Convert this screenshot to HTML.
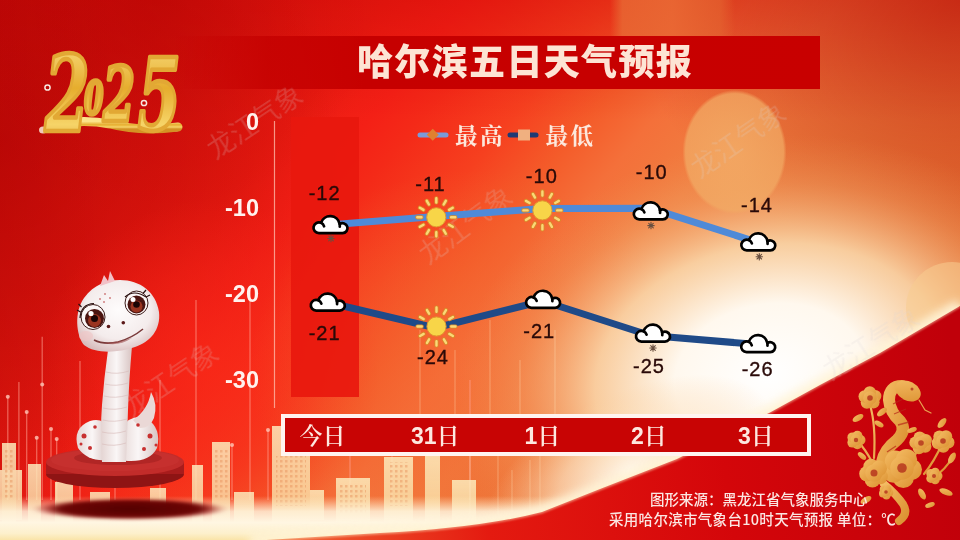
<!DOCTYPE html>
<html><head><meta charset="utf-8">
<style>
html,body{margin:0;padding:0;width:960px;height:540px;overflow:hidden;background:#d01010}
svg{display:block}
.t{font-family:"Liberation Sans","Noto Sans CJK SC",sans-serif}
</style></head>
<body>
<svg width="960" height="540" viewBox="0 0 960 540">
<defs>
  <linearGradient id="bgx" x1="0" y1="0" x2="772" y2="636" gradientUnits="userSpaceOnUse">
    <stop offset="0" stop-color="#e01410"/>
    <stop offset="0.3" stop-color="#ec1c12"/>
    <stop offset="0.36" stop-color="#f42016"/>
    <stop offset="0.4" stop-color="#f42a18"/>
    <stop offset="0.47" stop-color="#f6401f"/>
    <stop offset="0.53" stop-color="#f45c2a"/>
    <stop offset="0.58" stop-color="#f4703a"/>
    <stop offset="0.65" stop-color="#f07e40"/>
    <stop offset="0.75" stop-color="#e87a3a"/>
    <stop offset="0.9" stop-color="#e26c30"/>
    <stop offset="1" stop-color="#de642c"/>
  </linearGradient>
  <radialGradient id="midorange" cx="470" cy="370" r="200" gradientUnits="userSpaceOnUse" gradientTransform="translate(470 370) scale(1.1 1) translate(-470 -370)">
    <stop offset="0" stop-color="#f66c36" stop-opacity="0.6"/>
    <stop offset="0.6" stop-color="#f4642e" stop-opacity="0.35"/>
    <stop offset="1" stop-color="#f4642e" stop-opacity="0"/>
  </radialGradient>
  <radialGradient id="glow2" cx="630" cy="470" r="110" gradientUnits="userSpaceOnUse" gradientTransform="translate(630 470) rotate(-25) scale(1.4 0.7) translate(-630 -470)">
    <stop offset="0" stop-color="#fff8ec" stop-opacity="0.95"/>
    <stop offset="0.5" stop-color="#fde6c8" stop-opacity="0.6"/>
    <stop offset="1" stop-color="#fad0a0" stop-opacity="0"/>
  </radialGradient>
  <radialGradient id="leftbright" cx="210" cy="370" r="170" gradientUnits="userSpaceOnUse">
    <stop offset="0" stop-color="#fa2818" stop-opacity="0.75"/>
    <stop offset="0.6" stop-color="#f82418" stop-opacity="0.4"/>
    <stop offset="1" stop-color="#f82418" stop-opacity="0"/>
  </radialGradient>
  <radialGradient id="trdark" cx="960" cy="0" r="330" gradientUnits="userSpaceOnUse" gradientTransform="translate(960 0) scale(1 0.8) translate(-960 0)">
    <stop offset="0" stop-color="#b40000" stop-opacity="0.5"/>
    <stop offset="0.5" stop-color="#b40000" stop-opacity="0.25"/>
    <stop offset="1" stop-color="#b40000" stop-opacity="0"/>
  </radialGradient>
  <linearGradient id="ledge" x1="0" y1="0" x2="110" y2="0" gradientUnits="userSpaceOnUse">
    <stop offset="0" stop-color="#a00000" stop-opacity="0.22"/>
    <stop offset="1" stop-color="#a00000" stop-opacity="0"/>
  </linearGradient>
  <radialGradient id="leftdark" cx="0" cy="140" r="340" gradientUnits="userSpaceOnUse">
    <stop offset="0" stop-color="#a80000" stop-opacity="0.58"/>
    <stop offset="0.5" stop-color="#a80000" stop-opacity="0.32"/>
    <stop offset="1" stop-color="#a80000" stop-opacity="0"/>
  </radialGradient>
  <linearGradient id="topglow" x1="610" y1="0" x2="735" y2="0" gradientUnits="userSpaceOnUse">
    <stop offset="0" stop-color="#e86a34" stop-opacity="0"/>
    <stop offset="0.1" stop-color="#e86a34" stop-opacity="0.8"/>
    <stop offset="0.5" stop-color="#ea6c36" stop-opacity="0.85"/>
    <stop offset="0.88" stop-color="#e46430" stop-opacity="0.7"/>
    <stop offset="1" stop-color="#e46430" stop-opacity="0"/>
  </linearGradient>
  <radialGradient id="tldark" cx="160" cy="0" r="220" gradientUnits="userSpaceOnUse">
    <stop offset="0" stop-color="#a80000" stop-opacity="0.35"/>
    <stop offset="1" stop-color="#a80000" stop-opacity="0"/>
  </radialGradient>
  <linearGradient id="topdark" x1="0" y1="0" x2="0" y2="120" gradientUnits="userSpaceOnUse">
    <stop offset="0" stop-color="#c00000" stop-opacity="0.3"/>
    <stop offset="0.35" stop-color="#c00000" stop-opacity="0.18"/>
    <stop offset="1" stop-color="#c00000" stop-opacity="0"/>
  </linearGradient>
  <radialGradient id="leftred" cx="120" cy="380" r="260" gradientUnits="userSpaceOnUse">
    <stop offset="0" stop-color="#ee1c12" stop-opacity="0.8"/>
    <stop offset="1" stop-color="#ee1c12" stop-opacity="0"/>
  </radialGradient>
  <radialGradient id="glow" cx="770" cy="375" r="320" gradientUnits="userSpaceOnUse" gradientTransform="translate(770 375) rotate(-10) scale(1 0.74) translate(-770 -375)">
    <stop offset="0" stop-color="#ffffff" stop-opacity="1"/>
    <stop offset="0.3" stop-color="#fff8ee" stop-opacity="1"/>
    <stop offset="0.55" stop-color="#fbdcb0" stop-opacity="0.85"/>
    <stop offset="0.8" stop-color="#f4a86c" stop-opacity="0.35"/>
    <stop offset="1" stop-color="#f09050" stop-opacity="0"/>
  </radialGradient>
  <radialGradient id="rglow" cx="940" cy="260" r="160" gradientUnits="userSpaceOnUse">
    <stop offset="0" stop-color="#f6c48a" stop-opacity="0.8"/>
    <stop offset="1" stop-color="#f6c48a" stop-opacity="0"/>
  </radialGradient>
  <radialGradient id="bokeh" cx="0.5" cy="0.5" r="0.5">
    <stop offset="0" stop-color="#f4b06a" stop-opacity="0.8"/>
    <stop offset="0.94" stop-color="#f2aa64" stop-opacity="0.75"/>
    <stop offset="1" stop-color="#f2aa64" stop-opacity="0"/>
  </radialGradient>
  <linearGradient id="band" x1="0" y1="540" x2="960" y2="400" gradientUnits="userSpaceOnUse">
    <stop offset="0" stop-color="#f4a050"/>
    <stop offset="0.3" stop-color="#f06030"/>
    <stop offset="0.5" stop-color="#e41a10"/>
    <stop offset="0.75" stop-color="#d4060a"/>
    <stop offset="1" stop-color="#c0000a"/>
  </linearGradient>
  <linearGradient id="titlebar" x1="170" y1="0" x2="820" y2="0" gradientUnits="userSpaceOnUse">
    <stop offset="0" stop-color="#c40000" stop-opacity="0"/>
    <stop offset="0.15" stop-color="#c40000" stop-opacity="0.8"/>
    <stop offset="0.3" stop-color="#c60000" stop-opacity="1"/>
    <stop offset="1" stop-color="#c80000" stop-opacity="1"/>
  </linearGradient>
  <linearGradient id="gold" x1="0" y1="0" x2="0" y2="1">
    <stop offset="0" stop-color="#fbe38a"/>
    <stop offset="0.45" stop-color="#e6ad2e"/>
    <stop offset="0.75" stop-color="#f6d468"/>
    <stop offset="1" stop-color="#d49224"/>
  </linearGradient>
  <linearGradient id="gold2" x1="0" y1="0" x2="1" y2="1">
    <stop offset="0" stop-color="#f4bc64"/>
    <stop offset="1" stop-color="#dc9232"/>
  </linearGradient>
  <linearGradient id="bld" x1="0" y1="0" x2="0" y2="1">
    <stop offset="0" stop-color="#fdeec0" stop-opacity="0.95"/>
    <stop offset="1" stop-color="#fae0a4" stop-opacity="0.88"/>
  </linearGradient>
  <linearGradient id="botglow" x1="0" y1="496" x2="0" y2="540" gradientUnits="userSpaceOnUse">
    <stop offset="0" stop-color="#fff0c8" stop-opacity="0"/>
    <stop offset="0.35" stop-color="#fff4dc" stop-opacity="0.85"/>
    <stop offset="0.6" stop-color="#fff6e2" stop-opacity="1"/>
    <stop offset="0.85" stop-color="#fdf0cc" stop-opacity="1"/>
    <stop offset="1" stop-color="#fae4a8" stop-opacity="1"/>
  </linearGradient>
  <radialGradient id="shadow" cx="0.5" cy="0.5" r="0.5">
    <stop offset="0" stop-color="#520202"/>
    <stop offset="0.75" stop-color="#6a0606" stop-opacity="0.97"/>
    <stop offset="1" stop-color="#b01010" stop-opacity="0"/>
  </radialGradient>
  <radialGradient id="head" cx="0.5" cy="0.42" r="0.62">
    <stop offset="0" stop-color="#fefcfc"/>
    <stop offset="0.65" stop-color="#f4ecec"/>
    <stop offset="1" stop-color="#d8bcbc"/>
  </radialGradient>
  <linearGradient id="body" x1="0" y1="0" x2="1" y2="0">
    <stop offset="0" stop-color="#e4d4d2"/>
    <stop offset="0.5" stop-color="#faf6f6"/>
    <stop offset="1" stop-color="#d8c4c2"/>
  </linearGradient>
  <linearGradient id="plat" x1="0" y1="0" x2="0" y2="1">
    <stop offset="0" stop-color="#c83028"/>
    <stop offset="1" stop-color="#a81a18"/>
  </linearGradient>
  <g id="cloud">
    <path d="M7.2 18.6A5.4 5.4 0 1 1 9.36 8.25A9.6 9.6 0 0 1 27.95 9.49A5 5 0 1 1 30.8 18.6Z" fill="#fff" stroke="#000" stroke-width="2.7" stroke-linejoin="round"/>
    <path d="M9.36 8.25A5.4 5.4 0 0 1 12.38 11.68M27.95 9.49A9.6 9.6 0 0 1 28.06 12.04" fill="none" stroke="#000" stroke-width="2.7" stroke-linecap="round"/>
  </g>
  <g id="snow" stroke="#6a5040" stroke-width="1.1" stroke-linecap="round">
    <path d="M0 -3.2V3.2M-3.2 0H3.2M-2.3 -2.3L2.3 2.3M-2.3 2.3L2.3 -2.3"/>
  </g>
  <g id="sun">
    <g stroke="#d88a28" stroke-width="4.2" stroke-linecap="round">
      <path id="rays" d="M0 -14.8V-19.0M0 14.8V19.0M-14.8 0H-19.0M14.8 0H19.0M7.4 -12.82L9.5 -16.45M-7.4 -12.82L-9.5 -16.45M7.4 12.82L9.5 16.45M-7.4 12.82L-9.5 16.45M12.82 -7.4L16.45 -9.5M-12.82 -7.4L-16.45 -9.5M12.82 7.4L16.45 9.5M-12.82 7.4L-16.45 9.5"/>
    </g>
    <g stroke="#fad878" stroke-width="2.4" stroke-linecap="round">
      <use href="#rays"/>
    </g>
    <circle r="9.6" fill="#f8d548" stroke="#e09a30" stroke-width="1"/>
  </g>
  <filter id="blur1"><feGaussianBlur stdDeviation="1"/></filter>
  <filter id="hblur" x="-20%" y="-50%" width="140%" height="200%"><feGaussianBlur stdDeviation="5 1.5"/></filter>
  <pattern id="win" width="5" height="5" patternUnits="userSpaceOnUse"><rect width="2.5" height="2.5" fill="#e8905a"/></pattern>
  <filter id="blur2"><feGaussianBlur stdDeviation="2"/></filter>
  <filter id="blur4"><feGaussianBlur stdDeviation="4"/></filter>
</defs>

<!-- ===== background ===== -->
<rect width="960" height="540" fill="url(#bgx)"/>
<rect width="960" height="120" fill="url(#topdark)"/>
<rect width="960" height="540" fill="url(#trdark)"/>
<rect width="960" height="540" fill="url(#leftdark)"/>
<rect width="960" height="540" fill="url(#leftbright)"/>
<rect width="960" height="540" fill="url(#midorange)"/>
<rect x="600" width="140" height="40" fill="url(#topglow)"/>
<rect width="960" height="300" fill="url(#tldark)"/>
<rect width="960" height="540" fill="url(#glow)"/>
<rect width="960" height="540" fill="url(#glow2)"/>
<ellipse cx="734.5" cy="152" rx="52" ry="62" fill="url(#bokeh)"/>
<circle cx="952" cy="308" r="46" fill="#f8cc90" opacity="0.55"/>

<!-- light streaks -->
<rect width="110" height="540" fill="url(#ledge)"/>
<g stroke="#ffa090" stroke-width="1.3" opacity="0.55"><line x1="42.2" y1="336.7" x2="42.2" y2="500"/><line x1="18.9" y1="382" x2="18.9" y2="500"/><line x1="26.7" y1="412" x2="26.7" y2="500"/><line x1="7.8" y1="396.7" x2="7.8" y2="500"/><line x1="80" y1="361" x2="80" y2="500"/><line x1="36.7" y1="437.8" x2="36.7" y2="500"/><line x1="51" y1="429" x2="51" y2="500"/><line x1="56.7" y1="439" x2="56.7" y2="500"/><line x1="160" y1="380" x2="160" y2="500"/><line x1="196" y1="300" x2="196" y2="500"/><line x1="250" y1="290" x2="250" y2="500"/><line x1="232" y1="445" x2="232" y2="500"/><line x1="268" y1="430" x2="268" y2="500"/><line x1="350" y1="420" x2="350" y2="500"/><line x1="392" y1="440" x2="392" y2="500"/><line x1="470" y1="380" x2="470" y2="500"/><line x1="115" y1="300" x2="115" y2="500"/></g>
<g fill="#ffc8b8" opacity="0.8"><circle cx="42.2" cy="384.4" r="2"/><circle cx="26.7" cy="412" r="2"/><circle cx="7.8" cy="396.7" r="2"/><circle cx="36.7" cy="437.8" r="2"/><circle cx="51" cy="429" r="2"/><circle cx="56.7" cy="439" r="2"/><circle cx="232" cy="445" r="2"/><circle cx="268" cy="430" r="2"/><circle cx="350" cy="420" r="2"/><circle cx="392" cy="440" r="2"/></g>

<!-- skyline -->
<g fill="url(#bld)" opacity="0.88">
  <rect x="2" y="443" width="14" height="80"/>
  <rect x="0" y="470" width="22" height="50"/>
  <rect x="28" y="464" width="13" height="60"/>
  <rect x="55" y="482" width="18" height="40"/>
  <rect x="90" y="492" width="20" height="30"/>
  <rect x="150" y="488" width="16" height="30"/>
  <rect x="192" y="465" width="11" height="60"/>
  <rect x="212" y="442" width="18" height="80"/>
  <rect x="234" y="492" width="20" height="30"/>
  <rect x="272" y="426" width="38" height="96"/>
  <rect x="310" y="490" width="14" height="30"/>
  <rect x="336" y="478" width="34" height="44"/>
  <rect x="384" y="457" width="29" height="65"/>
  <rect x="425" y="456" width="15" height="66"/>
  <rect x="452" y="480" width="24" height="42"/>
</g>
<g fill="url(#win)" opacity="0.45">
  <rect x="4" y="450" width="10" height="50"/>
  <rect x="214" y="450" width="14" height="50"/>
  <rect x="276" y="456" width="30" height="50"/>
  <rect x="340" y="484" width="26" height="30"/>
  <rect x="388" y="462" width="22" height="44"/>
</g>
<g stroke="#ffe8c0" stroke-width="1" opacity="0.35">
  <line x1="498" y1="456" x2="498" y2="515"/><line x1="512" y1="470" x2="512" y2="512"/><line x1="530" y1="460" x2="530" y2="510"/>
  <line x1="420" y1="330" x2="420" y2="414"/><line x1="455" y1="350" x2="455" y2="414"/><line x1="490" y1="320" x2="490" y2="414"/>
  <line x1="520" y1="360" x2="520" y2="414"/><line x1="555" y1="330" x2="555" y2="414"/><line x1="470" y1="456" x2="470" y2="520"/><line x1="540" y1="456" x2="540" y2="510"/>
</g>

<!-- bottom glow strip -->
<rect x="0" y="496" width="960" height="44" fill="url(#botglow)"/>

<!-- shadow under platform -->
<ellipse cx="130" cy="509" rx="96" ry="11" fill="url(#shadow)" filter="url(#hblur)"/>

<!-- red diagonal band bottom right -->
<path d="M960 306 L880 353 L820 385 L770 412.5 L677 459 L600 489 L542 512 Q480 528 380 533 L250 541" fill="none" stroke="#fff4d8" stroke-width="14" opacity="0.9" filter="url(#blur4)"/>
<path d="M960 306 L880 353 L820 385 L770 412.5 L677 459 L600 489 L542 512 Q480 528 380 533 L250 541 L960 541Z" fill="url(#band)"/>
<path d="M960 306 L880 353 L820 385 L770 412.5 L677 459 L600 489 L542 512 Q480 528 380 533 L250 541" fill="none" stroke="#fff0c8" stroke-width="2.5" opacity="0.55" filter="url(#blur1)"/>

<!-- ===== snake figure ===== -->
<g>
  <!-- platform -->
  <ellipse cx="115" cy="474" rx="69" ry="14" fill="#8e1414"/>
  <rect x="46" y="462" width="138" height="12" fill="#a81c1c"/>
  <ellipse cx="115" cy="462" rx="69" ry="14" fill="#c22c2a"/>
  <ellipse cx="115" cy="460" rx="64" ry="11" fill="#c83432" opacity="0.6"/>
  <!-- coil -->
  <ellipse cx="118" cy="458" rx="44" ry="7" fill="#8a1414" opacity="0.35"/>
  <path d="M78 448 Q72 428 90 421 Q104 417 108 430 L108 460 Q88 462 78 448Z" fill="url(#body)"/>
  <path d="M122 428 Q130 414 146 418 Q162 428 157 448 Q150 462 128 461 L118 460Z" fill="url(#body)"/>
  <path d="M133 420 Q148 410 151 392 Q158 404 154 418 Q150 428 140 428Z" fill="#ead8d6"/>
  <!-- neck -->
  <path d="M108 350 L132 346 Q129 380 128 410 Q127 440 126 462 L102 462 Q100 430 102 405 Q104 378 108 350Z" fill="url(#body)"/>
  <g stroke="#d8bcba" stroke-width="0.8" fill="none" opacity="0.8">
    <path d="M106 372 Q117 375 129 371M105 384 Q116 387 128 383M104 396 Q115 399 128 395M103 408 Q115 411 127 407M103 420 Q114 423 127 419M102 432 Q114 435 126 431M102 444 Q114 447 126 443"/>
  </g>
  <!-- head -->
  <path d="M84 345 C76 335 74 312 84 298 C94 284 108 280 120 280 C140 280 156 292 159 312 C161 330 150 342 135 347 C118 353 95 354 84 345Z" fill="url(#head)"/>
  <path d="M100 286 L104 275 L108 281 L110 271 L115 281 Z" fill="#f2c0c6"/>
  <ellipse cx="86" cy="336" rx="7" ry="5" fill="#f0c4c4" opacity="0.6"/>
  <!-- eyes -->
  <ellipse cx="93" cy="317" rx="12" ry="12.5" fill="#fbf6f6" stroke="#3a1a18" stroke-width="1"/>
  <ellipse cx="136.5" cy="303" rx="11.5" ry="12" fill="#fbf6f6" stroke="#3a1a18" stroke-width="1"/>
  <circle cx="94.5" cy="318.5" r="9.5" fill="#4a1410"/>
  <circle cx="136.5" cy="304.5" r="9" fill="#4a1410"/>
  <circle cx="94.5" cy="320.5" r="6.5" fill="#9a3420"/>
  <circle cx="136.5" cy="306.5" r="6" fill="#9a3420"/>
  <circle cx="94.5" cy="318.5" r="3.5" fill="#1a0404"/>
  <circle cx="136.5" cy="304.5" r="3.3" fill="#1a0404"/>
  <circle cx="91" cy="313.5" r="2.6" fill="#fff"/>
  <circle cx="133" cy="299.5" r="2.5" fill="#fff"/>
  <path d="M80 318 Q81 304 94 303.5M80.5 312 L77 310M81.5 307 L78.5 304M125 297 Q134 289 146 297M146 297 L150 295M143 293.5 L146 290" fill="none" stroke="#2a1010" stroke-width="1.2"/>
  <circle cx="108.5" cy="326.5" r="1.8" fill="#5a1818"/>
  <circle cx="123.3" cy="322.8" r="1.8" fill="#5a1818"/>
  <path d="M94 340 Q104 345 118 342 Q132 338 143 329" fill="none" stroke="#7a3a3a" stroke-width="1.6"/>
  <path d="M104 343 Q118 347 132 338 Q120 342 104 343Z" fill="#a05050" opacity="0.6"/>
  <!-- spots -->
  <g fill="#c83030">
    <circle cx="84" cy="436" r="2.5"/><circle cx="90" cy="448" r="2"/><circle cx="150" cy="436" r="2.5"/>
    <circle cx="144" cy="449" r="2"/><circle cx="81" cy="444" r="1.5"/><circle cx="156" cy="445" r="1.5"/><circle cx="95" cy="427" r="1.8"/><circle cx="138" cy="425" r="1.8"/>
  </g>
  <g fill="#c05050" opacity="0.7"><circle cx="100" cy="299" r="1"/><circle cx="105" cy="294" r="1"/><circle cx="110" cy="298" r="1"/><circle cx="104" cy="302" r="1"/></g>
</g>

<!-- ===== gold paper-cut snake ===== -->
<g>
<g fill="none" stroke="url(#gold2)" stroke-linecap="round">
  <path d="M902 386 Q889 386 889 400 Q890 412 900 421 Q907 430 897 440 Q884 450 882 462" stroke-width="12"/>
  <path d="M884 484 Q896 494 903 504 Q909 514 899 521" stroke-width="8"/>
  <path d="M870 405 Q876 425 874 458M856 439 Q866 450 872 462M943 442 Q934 462 924 474M921 442 Q915 455 912 462M952 458 Q945 470 935 476" stroke-width="2.2"/>
  <path d="M919 400 L925 410 L931 413" stroke="#e8a050" stroke-width="1.2"/>
</g>
<ellipse cx="908" cy="391" rx="13.5" ry="9.5" transform="rotate(28 908 391)" fill="url(#gold2)"/>
<g fill="url(#gold2)"><circle cx="911.4" cy="469.6" r="10.6"/><circle cx="903.3" cy="477.4" r="10.6"/><circle cx="893.5" cy="472.2" r="10.6"/><circle cx="895.4" cy="461.2" r="10.6"/><circle cx="906.5" cy="459.6" r="10.6"/><circle cx="902" cy="468" r="11.8"/><circle cx="880.1" cy="476.5" r="7.8"/><circle cx="872.5" cy="479.8" r="7.8"/><circle cx="867.0" cy="473.7" r="7.8"/><circle cx="871.2" cy="466.6" r="7.8"/><circle cx="879.2" cy="468.3" r="7.8"/><circle cx="874" cy="473" r="8.7"/><circle cx="875.2" cy="396.1" r="6.2"/><circle cx="873.4" cy="402.3" r="6.2"/><circle cx="866.9" cy="402.6" r="6.2"/><circle cx="864.7" cy="396.5" r="6.2"/><circle cx="869.8" cy="392.5" r="6.2"/><circle cx="870" cy="398" r="6.8"/><circle cx="860.5" cy="440.0" r="5.0"/><circle cx="857.4" cy="444.3" r="5.0"/><circle cx="852.4" cy="442.6" r="5.0"/><circle cx="852.4" cy="437.4" r="5.0"/><circle cx="857.4" cy="435.7" r="5.0"/><circle cx="856" cy="440" r="5.6"/><circle cx="948.3" cy="442.4" r="6.2"/><circle cx="943.3" cy="446.5" r="6.2"/><circle cx="937.9" cy="443.0" r="6.2"/><circle cx="939.5" cy="436.7" r="6.2"/><circle cx="946.0" cy="436.4" r="6.2"/><circle cx="943" cy="441" r="6.8"/><circle cx="925.2" cy="446.5" r="6.2"/><circle cx="918.9" cy="448.1" r="6.2"/><circle cx="915.5" cy="442.6" r="6.2"/><circle cx="919.7" cy="437.7" r="6.2"/><circle cx="925.7" cy="440.1" r="6.2"/><circle cx="921" cy="443" r="6.8"/><circle cx="938.0" cy="476.0" r="4.5"/><circle cx="935.2" cy="479.8" r="4.5"/><circle cx="930.8" cy="478.4" r="4.5"/><circle cx="930.8" cy="473.6" r="4.5"/><circle cx="935.2" cy="472.2" r="4.5"/><circle cx="934" cy="476" r="5.0"/><circle cx="889.4" cy="492.6" r="3.9"/><circle cx="886.5" cy="495.5" r="3.9"/><circle cx="882.9" cy="493.5" r="3.9"/><circle cx="883.6" cy="489.5" r="3.9"/><circle cx="887.6" cy="488.9" r="3.9"/><circle cx="886" cy="492" r="4.3"/><ellipse cx="858" cy="418" rx="6" ry="3" transform="rotate(-30 858 418)"/><ellipse cx="882" cy="412" rx="6" ry="3" transform="rotate(-40 882 412)"/><ellipse cx="879" cy="424" rx="5" ry="2.5" transform="rotate(30 879 424)"/><ellipse cx="942" cy="423" rx="6" ry="3" transform="rotate(-50 942 423)"/><ellipse cx="946" cy="492" rx="7" ry="3" transform="rotate(20 946 492)"/><ellipse cx="922" cy="494" rx="6" ry="3" transform="rotate(60 922 494)"/><ellipse cx="930" cy="505" rx="5" ry="2.5" transform="rotate(-20 930 505)"/><ellipse cx="862" cy="456" rx="5" ry="2.5" transform="rotate(40 862 456)"/><ellipse cx="952" cy="458" rx="6" ry="3" transform="rotate(-60 952 458)"/><ellipse cx="866" cy="500" rx="6" ry="3" transform="rotate(-30 866 500)"/><ellipse cx="912" cy="430" rx="5" ry="2.5" transform="rotate(-20 912 430)"/></g>
<g fill="#b02818" opacity="0.75"><circle cx="902" cy="468" r="4.8"/><circle cx="874" cy="473" r="3.5"/><circle cx="870" cy="398" r="2.8"/><circle cx="856" cy="440" r="2.2"/><circle cx="943" cy="441" r="2.8"/><circle cx="921" cy="443" r="2.8"/><circle cx="934" cy="476" r="2.0"/><circle cx="886" cy="492" r="1.8"/><circle cx="912" cy="389" r="1.5"/></g>
<g stroke="#b82818" stroke-width="1.3" fill="none" opacity="0.7"><path d="M893 404 L903 399M894 414 L906 409M898 425 L909 422M887 452 L896 446"/></g>
</g>

<!-- ===== title bar ===== -->
<rect x="170" y="36" width="650" height="53" fill="url(#titlebar)"/>
<text x="357" y="75" font-family="'Noto Sans CJK SC',sans-serif" font-weight="900" font-size="36" fill="#fde4d4" letter-spacing="1.35">哈尔滨五日天气预报</text>

<!-- ===== 2025 logo ===== -->
<g fill="none" stroke="#f8e8e0" stroke-width="1.5"><circle cx="47.5" cy="87.5" r="2.6"/><circle cx="144" cy="103" r="2.6"/></g>
<g fill="#f0c8b8"><ellipse cx="43" cy="130" rx="4" ry="3.5"/><ellipse cx="176" cy="128" rx="4" ry="3.5"/></g>
<path d="M50 126 Q80 118 110 124 Q140 132 178 127" fill="none" stroke="url(#gold)" stroke-width="9" stroke-linecap="round"/>
<g transform="scale(0.62 1)">
  <text font-family="'DejaVu Serif',serif" font-style="italic" font-weight="700" fill="url(#gold)" stroke="#e2a834" stroke-width="4.5" stroke-linejoin="round"><tspan x="72" y="131" font-size="104">2</tspan><tspan x="136" y="114" font-size="44">0</tspan><tspan x="166" y="121" font-size="74">2</tspan><tspan x="222" y="130" font-size="100">5</tspan></text>
</g>
<!-- watermarks -->
<g font-family="'Noto Sans CJK SC',sans-serif" font-size="27" fill="#dcd6d8" opacity="0.2">
  <text transform="translate(221 144) rotate(-33.7)" x="-13.5" y="10">龙江气象</text>
  <text transform="translate(433 249) rotate(-36.7)" x="-13.5" y="10">龙江气象</text>
  <text transform="translate(705 163) rotate(-34.7)" x="-13.5" y="10">龙江气象</text>
  <text transform="translate(837 365) rotate(-32.5)" x="-13.5" y="10">龙江气象</text>
  <text transform="translate(137 402) rotate(-33.9)" x="-13.5" y="10">龙江气象</text>
</g>

<!-- ===== chart ===== -->
<rect x="291" y="117" width="68" height="280" fill="#e8180e" opacity="0.92"/>
<line x1="274.5" y1="121" x2="274.5" y2="408" stroke="#ffc0b0" stroke-width="1.2" opacity="0.75"/>
<g class="t" font-weight="700" font-size="23.5" fill="#fff2ee" text-anchor="end">
  <text x="259" y="130">0</text>
  <text x="259" y="216">-10</text>
  <text x="259" y="302">-20</text>
  <text x="259" y="388">-30</text>
</g>

<!-- legend -->
<line x1="420" y1="135" x2="446" y2="135" stroke="#7b9ad8" stroke-width="5" stroke-linecap="round"/>
<rect x="428.5" y="130.5" width="8.5" height="8.5" fill="#e08030" transform="rotate(45 432.75 134.75)"/>
<text x="455" y="144" font-family="'Noto Serif CJK SC',serif" font-weight="700" font-size="22.5" letter-spacing="2.5" fill="#fce8dc">最高</text>
<line x1="510" y1="135" x2="536" y2="135" stroke="#1e3a74" stroke-width="5" stroke-linecap="round"/>
<rect x="518" y="129.5" width="12" height="11" fill="#f0b080"/>
<text x="545.5" y="144" font-family="'Noto Serif CJK SC',serif" font-weight="700" font-size="22.5" letter-spacing="2.5" fill="#fce8dc">最低</text>

<!-- lines -->
<polyline points="328.2,225.1 435.5,216.5 542.8,208.4 650.1,208.2 757.4,242.3" fill="none" stroke="#4f8ad8" stroke-width="7" stroke-linejoin="round"/>
<polyline points="328.2,302.5 435.5,327.8 542.8,301 650.1,335.5 757.4,344.5" fill="none" stroke="#1f4a88" stroke-width="7" stroke-linejoin="round"/>

<!-- icons high -->
<use href="#cloud" x="311.7" y="214.6"/>
<use href="#snow" x="331" y="238.5"/>
<use href="#sun" x="436.3" y="217.3"/>
<use href="#sun" x="542.4" y="210.4"/>
<use href="#cloud" x="632" y="200.8"/>
<use href="#snow" x="651" y="225.6"/>
<use href="#cloud" x="739.5" y="231.8"/>
<use href="#snow" x="759.3" y="256.7"/>
<!-- icons low -->
<use href="#cloud" x="309" y="292"/>
<use href="#sun" x="436.5" y="326.5"/>
<use href="#cloud" x="524.3" y="289.2"/>
<use href="#cloud" x="634.2" y="323"/>
<use href="#snow" x="653" y="348"/>
<use href="#cloud" x="739.4" y="333.6"/>

<!-- value labels -->
<g class="t" font-size="20" fill="#2a0a08" stroke="#2a0a08" stroke-width="0.35" text-anchor="middle" letter-spacing="1">
  <text x="324.6" y="200.3">-12</text>
  <text x="430.5" y="191.4">-11</text>
  <text x="541.8" y="183.4">-10</text>
  <text x="651.7" y="178.9">-10</text>
  <text x="757" y="211.8">-14</text>
  <text x="324.6" y="340.4">-21</text>
  <text x="433" y="364">-24</text>
  <text x="539.2" y="337.7">-21</text>
  <text x="649" y="373.3">-25</text>
  <text x="757.6" y="376">-26</text>
</g>

<!-- x axis bar -->
<rect x="283" y="416" width="526" height="38" fill="#c80404" stroke="#fff4f0" stroke-width="4"/>
<g font-size="23" fill="#fde8e0">
  <text x="299.5" y="443.5" font-family="'Noto Serif CJK SC',serif" font-weight="600">今日</text>
  <text x="411" y="443.5"><tspan font-family="'Liberation Sans',sans-serif" font-weight="700">31</tspan><tspan font-family="'Noto Serif CJK SC',serif" font-weight="600">日</tspan></text>
  <text x="524.5" y="443.5"><tspan font-family="'Liberation Sans',sans-serif" font-weight="700">1</tspan><tspan font-family="'Noto Serif CJK SC',serif" font-weight="600">日</tspan></text>
  <text x="631" y="443.5"><tspan font-family="'Liberation Sans',sans-serif" font-weight="700">2</tspan><tspan font-family="'Noto Serif CJK SC',serif" font-weight="600">日</tspan></text>
  <text x="738" y="443.5"><tspan font-family="'Liberation Sans',sans-serif" font-weight="700">3</tspan><tspan font-family="'Noto Serif CJK SC',serif" font-weight="600">日</tspan></text>
</g>

<!-- footer -->
<g font-family="'Noto Sans CJK SC',sans-serif" font-size="14.5" font-weight="500" fill="#fbe6e2">
  <text x="650" y="505">图形来源：黑龙江省气象服务中心</text>
  <text x="609" y="525" letter-spacing="0.3">采用哈尔滨市气象台10时天气预报 单位：℃</text>
</g>
</svg>
</body></html>
